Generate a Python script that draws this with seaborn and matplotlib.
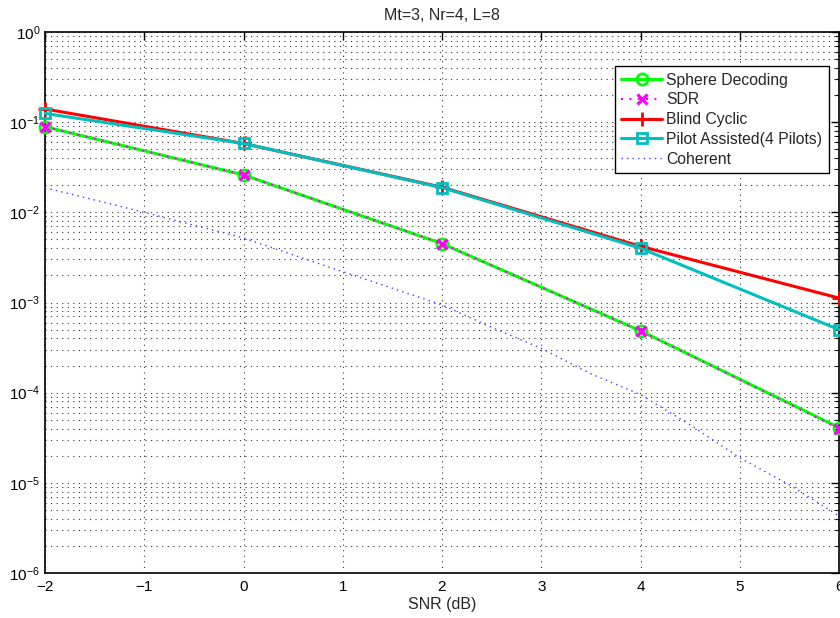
import numpy as np
import pandas as pd
import matplotlib
matplotlib.use("Agg")
import matplotlib.pyplot as plt
import seaborn as sns
from matplotlib.ticker import LogLocator, FixedLocator, NullFormatter

# SNR grid for the simulated detectors
snr = [-2, 0, 2, 4, 6]
ser_sphere = [0.089, 0.026, 0.0045, 4.85e-4, 4.1e-5]
ser_sdr = [0.089, 0.026, 0.0045, 4.85e-4, 4.0e-5]
ser_blind = [0.140, 0.058, 0.0190, 0.0042, 0.00112]
ser_pilot = [0.125, 0.058, 0.0188, 0.0040, 5.0e-4]

# Coherent (known channel) reference curve
snr_coh = [-2, -1.5, -1, -0.5, 0, 0.5, 1, 1.5, 2, 2.5, 3, 3.5, 4, 4.5, 5, 5.5, 6]
ser_coh = [0.0187, 0.0137, 0.0100, 0.0072, 0.0052, 0.00337, 0.0022, 0.00144,
           9.4e-4, 5.3e-4, 3.1e-4, 1.62e-4, 9.5e-5, 4.4e-5, 1.9e-5, 9.5e-6, 4.3e-6]

labels = ["Sphere Decoding", "SDR", "Blind Cyclic", "Pilot Assisted(4 Pilots)", "Coherent"]

sns.set_style("white")
plt.rcParams["font.family"] = ["Liberation Sans", "DejaVu Sans"]
plt.rcParams["mathtext.default"] = "regular"

fig = plt.figure(figsize=(8.4, 6.18), dpi=100)
ax = fig.add_axes([45 / 840, 1 - 573 / 618, 794 / 840, 541 / 618])

frames = {
    labels[0]: pd.DataFrame({"snr": snr, "ser": ser_sphere}),
    labels[1]: pd.DataFrame({"snr": snr, "ser": ser_sdr}),
    labels[2]: pd.DataFrame({"snr": snr, "ser": ser_blind}),
    labels[3]: pd.DataFrame({"snr": snr, "ser": ser_pilot}),
    labels[4]: pd.DataFrame({"snr": snr_coh, "ser": ser_coh}),
}

green = (0, 1, 0)
magenta = (1, 0, 1)
red = (1, 0, 0)
teal = (0, 0.75, 0.75)
blue = (0.25, 0.25, 1)

styles = {
    labels[0]: dict(color=green, linestyle="-", linewidth=2.2, marker="o",
                    markersize=8, markerfacecolor="none", markeredgecolor=green,
                    markeredgewidth=2),
    labels[1]: dict(color=magenta, linestyle=(0, (1, 3)), linewidth=1.5, marker="x",
                    markersize=6.5, markeredgecolor=magenta, markeredgewidth=2.3),
    labels[2]: dict(color=red, linestyle="-", linewidth=2.2, marker="+",
                    markersize=10, markeredgecolor=red, markeredgewidth=2),
    labels[3]: dict(color=teal, linestyle="-", linewidth=2.2, marker="s",
                    markersize=7.5, markerfacecolor="none", markeredgecolor=teal,
                    markeredgewidth=2),
    labels[4]: dict(color=blue, linestyle=(0, (1, 3)), linewidth=1.0),
}

for name in labels:
    sns.lineplot(data=frames[name], x="snr", y="ser", ax=ax, label=name,
                 estimator=None, sort=False, clip_on=False, zorder=3,
                 **styles[name])

ax.set_yscale("log")
ax.set_xlim(-2, 6)
ax.set_ylim(1e-6, 1)

ax.xaxis.set_major_locator(FixedLocator(list(range(-2, 7))))
ax.yaxis.set_major_locator(LogLocator(base=10, numticks=10))
ax.yaxis.set_minor_locator(LogLocator(base=10, subs=np.arange(2, 10), numticks=20))
ax.yaxis.set_minor_formatter(NullFormatter())

grid_kw = dict(linestyle=(0, (1, 4)), color="0.2", linewidth=0.8)
ax.grid(True, which="major", axis="both", **grid_kw)
ax.grid(True, which="minor", axis="y", **grid_kw)
ax.set_axisbelow(True)

ax.tick_params(axis="both", which="both", direction="in", top=True, right=True,
               labelsize=11, colors="black")
ax.tick_params(which="major", length=6, width=1)
ax.tick_params(which="minor", length=3, width=0.8)
ax.tick_params(axis="x", pad=5)

for sp in ax.spines.values():
    sp.set_visible(True)
    sp.set_color("black")
    sp.set_linewidth(1.2)

ax.set_xlabel("SNR (dB)", fontsize=11.5, labelpad=2)
ax.set_ylabel("")
ax.set_title("Mt=3, Nr=4, L=8", fontsize=11.5, pad=9)

leg = ax.legend(loc="upper right", bbox_to_anchor=(0.987, 0.937), fontsize=11.3,
                frameon=True, fancybox=False, framealpha=1, edgecolor="black",
                borderpad=0.42, labelspacing=0.3, handlelength=2.6,
                handletextpad=0.25, borderaxespad=0)
leg.get_frame().set_linewidth(1.0)

fig.savefig("out.png", dpi=100)
